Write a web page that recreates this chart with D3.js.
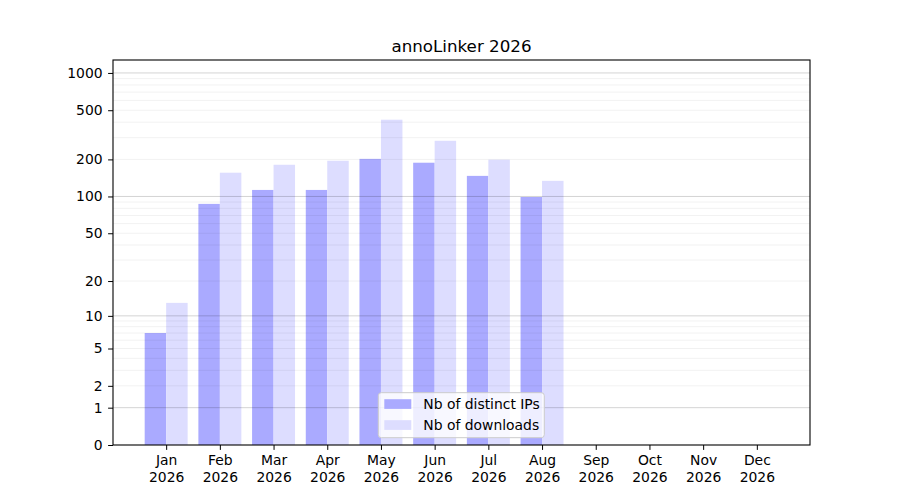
<!DOCTYPE html>
<html>
<head>
<meta charset="utf-8">
<script src="https://cdn.jsdelivr.net/npm/d3@7"></script>
<style>
  body { margin: 0; background: #fff; }
  text { font-family: "DejaVu Sans", sans-serif; fill: #000; }
</style>
</head>
<body>
<script>
var months = ["Jan", "Feb", "Mar", "Apr", "May", "Jun", "Jul", "Aug", "Sep", "Oct", "Nov", "Dec"];
var year = "2026";
var ips = [7, 87, 113, 113, 202, 188, 147, 99, 0, 0, 0, 0];
var downloads = [13, 156, 181, 195, 419, 283, 199, 134, 0, 0, 0, 0];
var yTicks = [0, 1, 2, 5, 10, 20, 50, 100, 200, 500, 1000];

var margin = {top: 60, right: 90, bottom: 55, left: 113},
    width = 810 - margin.left,
    height = 445 - margin.top;

var x = d3.scaleLinear()
    .domain([0.01, 12.99])
    .range([0, width]);

var y = d3.scaleSymlog()
    .constant(1)
    .domain([0, 1272])
    .range([height, 0]);

var svg = d3.select("body").append("svg")
    .attr("width", 900)
    .attr("height", 500)
  .append("g")
    .attr("transform", "translate(" + margin.left + "," + margin.top + ")");

var data = months.map(function(m, i) {
  return {month: m, i: i + 1, ips: ips[i], downloads: downloads[i]};
});

var barW = 0.4;

// bars
svg.selectAll(".ip")
    .data(data)
  .enter().append("rect")
    .attr("class", "ip")
    .attr("x", function(d) { return x(d.i - barW); })
    .attr("width", x(barW) - x(0))
    .attr("y", function(d) { return y(d.ips); })
    .attr("height", function(d) { return height - y(d.ips); })
    .attr("fill", "#aaaaff");

svg.selectAll(".dl")
    .data(data)
  .enter().append("rect")
    .attr("class", "dl")
    .attr("x", function(d) { return x(d.i); })
    .attr("width", x(barW) - x(0))
    .attr("y", function(d) { return y(d.downloads); })
    .attr("height", function(d) { return height - y(d.downloads); })
    .attr("fill", "#ddddff");

// grid lines, drawn over the bars
var minor = [];
[1, 10, 100].forEach(function(p) {
  for (var k = 2; k <= 9; k++) minor.push(k * p);
});
var major = [1, 10, 100, 1000];

svg.selectAll(".minor")
    .data(minor)
  .enter().append("line")
    .attr("x1", 0).attr("x2", width)
    .attr("y1", function(d) { return y(d); })
    .attr("y2", function(d) { return y(d); })
    .attr("stroke", "#000")
    .attr("stroke-opacity", 0.07)
    .attr("stroke-width", 0.8);

svg.selectAll(".major")
    .data(major)
  .enter().append("line")
    .attr("x1", 0).attr("x2", width)
    .attr("y1", function(d) { return y(d); })
    .attr("y2", function(d) { return y(d); })
    .attr("stroke", "#000")
    .attr("stroke-opacity", 0.22)
    .attr("stroke-width", 0.8);

// axes
var yAxis = d3.axisLeft(y)
    .tickValues(yTicks)
    .tickFormat(d3.format("d"))
    .tickSize(4.9)
    .tickPadding(5.5);

var xAxis = d3.axisBottom(x)
    .tickValues(d3.range(1, 13))
    .tickFormat(function(d) { return months[d - 1]; })
    .tickSize(4.9)
    .tickPadding(5.5);

var gy = svg.append("g").call(yAxis);
gy.select(".domain").remove();
gy.selectAll("text").style("font-size", "13.9px");

var gx = svg.append("g")
    .attr("transform", "translate(0," + height + ")")
    .call(xAxis);
gx.select(".domain").remove();
gx.selectAll("text")
    .style("font-size", "13.9px")
    .each(function(d) {
      var t = d3.select(this);
      t.append("tspan").attr("x", 0).attr("dy", "1.2em").text(year);
    });

// frame
svg.append("rect")
    .attr("width", width)
    .attr("height", height)
    .attr("fill", "none")
    .attr("stroke", "#000")
    .attr("stroke-width", 1.1);

// title
svg.append("text")
    .attr("x", width / 2)
    .attr("y", -8)
    .attr("text-anchor", "middle")
    .style("font-size", "16.7px")
    .text("annoLinker 2026");

// legend
var legend = svg.append("g")
    .attr("transform", "translate(" + (378.3 - margin.left) + "," + (392.7 - margin.top) + ")");

legend.append("rect")
    .attr("width", 166)
    .attr("height", 45)
    .attr("rx", 3)
    .attr("fill", "#fff")
    .attr("fill-opacity", 0.8)
    .attr("stroke", "#cccccc")
    .attr("stroke-width", 1);

var items = [
  {label: "Nb of distinct IPs", color: "#aaaaff"},
  {label: "Nb of downloads", color: "#ddddff"}
];

var li = legend.selectAll(".item")
    .data(items)
  .enter().append("g")
    .attr("transform", function(d, i) { return "translate(6," + (6.5 + i * 21) + ")"; });

li.append("rect")
    .attr("width", 27)
    .attr("height", 9.7)
    .attr("fill", function(d) { return d.color; });

li.append("text")
    .attr("x", 39)
    .attr("y", 5)
    .attr("dy", "0.35em")
    .style("font-size", "13.9px")
    .text(function(d) { return d.label; });
</script>
</body>
</html>
